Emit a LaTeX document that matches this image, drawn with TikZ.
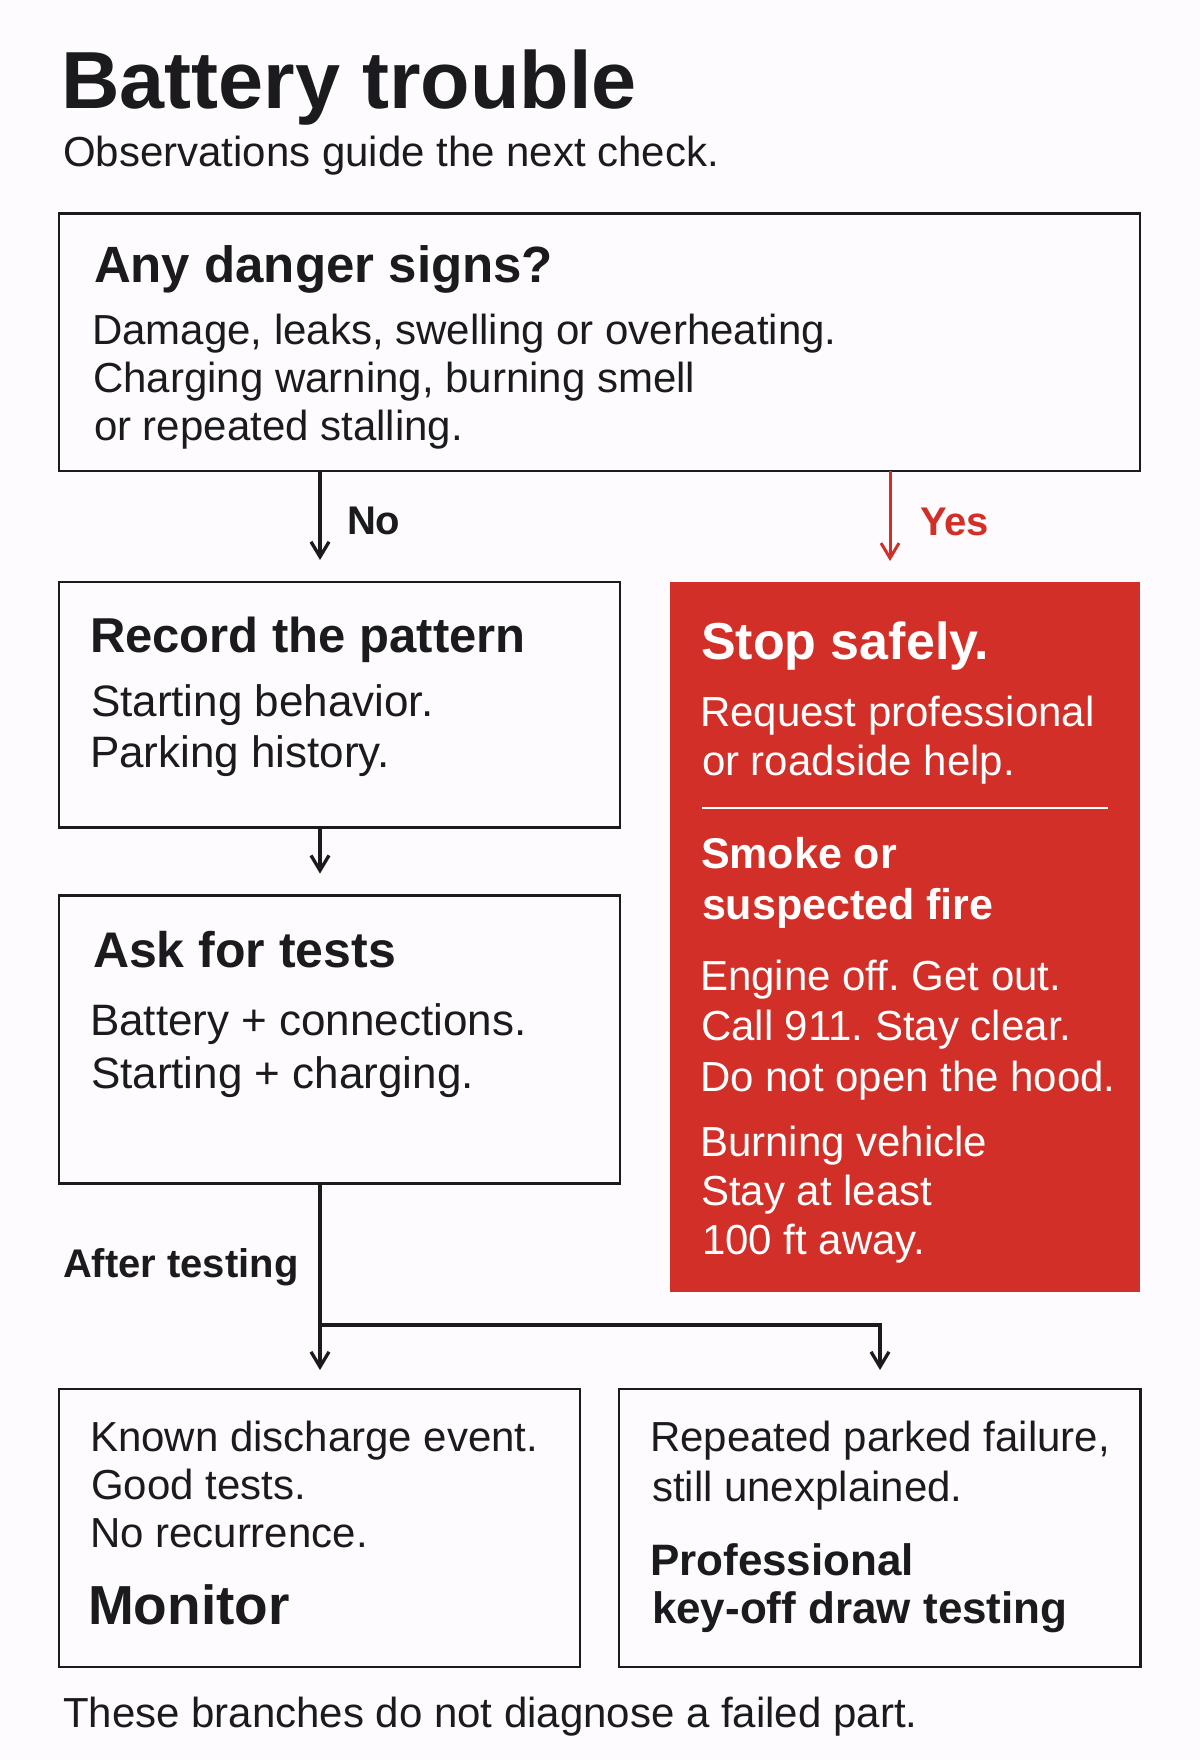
\documentclass[tikz,border=0pt]{standalone}
\usepackage{fontspec}
\setmainfont{Liberation Sans}
\usetikzlibrary{arrows.meta}
\definecolor{bg}{HTML}{FDFBFD}
\definecolor{ink}{HTML}{1B1A1E}
\definecolor{alarm}{HTML}{D12F27}
\newcommand{\fsz}[1]{\fontsize{#1}{#1}\selectfont}
\frenchspacing
\begin{document}
\frenchspacing
\begin{tikzpicture}[x=1pt,y=1pt,
  txt/.style={anchor=base west, inner sep=0pt, outer sep=0pt, text=ink},
  wtxt/.style={txt, text=white},
  box/.style={draw=ink, line width=2.4pt, anchor=north west, inner sep=0pt, outer sep=0pt},
  redbox/.style={fill=alarm, anchor=north west, inner sep=0pt, outer sep=0pt},
  conn/.style={draw=ink, line width=3.3pt},
  arr/.style={conn, -{Straight Barb[length=15pt,width=18pt]}},
  body/.style={font=\fsz{42}},
  bodyl/.style={font=\fsz{44}},
  head/.style={font=\fsz{50}\bfseries}
]
\fill[bg] (0,0) rectangle (1200,-1760);
\useasboundingbox (0,0) rectangle (1200,-1760);

% title
\node[txt, font=\fsz{81}\bfseries] (title) at (61,-109) {Battery trouble};
\node[txt, body] (subtitle) at (63,-167) {Observations guide the next check.};

% boxes
\node[box, minimum width=1081pt, minimum height=257.5pt] (danger) at (59,-213.5) {};
\node[box, minimum width=561pt, minimum height=245.5pt] (record) at (59,-582) {};
\node[box, minimum width=561pt, minimum height=288pt] (ask) at (59,-895.6) {};
\node[redbox, minimum width=470pt, minimum height=710pt] (stop) at (670,-582) {};
\node[box, minimum width=521pt, minimum height=278pt] (monitor) at (59,-1389) {};
\node[box, minimum width=521.5pt, minimum height=278pt] (pro) at (619,-1389) {};

% danger box text
\node[txt, font=\fsz{51}\bfseries] (dh) at (94,-283) {Any danger signs?};
\node[txt, body] (d1) at (92,-344.4) {Damage, leaks, swelling or overheating.};
\node[txt, body] (d2) at (93,-392.3) {Charging warning, burning smell};
\node[txt, body] (d3) at (94,-440) {or repeated stalling.};

% branch labels
\node[txt, font=\fsz{40}\bfseries] (no) at (347,-534) {No};
\node[txt, font=\fsz{40}\bfseries, text=alarm] (yes) at (920,-535) {Yes};

% record box text
\node[txt, font=\fsz{49}\bfseries] (rh) at (90,-652.7) {Record the pattern};
\node[txt, bodyl] (r1) at (91,-716.7) {Starting behavior.};
\node[txt, bodyl] (r2) at (90,-767.3) {Parking history.};

% ask box text
\node[txt, head] (ah) at (93,-967.5) {Ask for tests};
\node[txt, bodyl] (a1) at (90,-1035.6) {Battery + connections.};
\node[txt, bodyl] (a2) at (91,-1088) {Starting + charging.};

% stop box text
\node[wtxt, font=\fsz{52}\bfseries] (sh) at (701,-659) {Stop safely.};
\node[wtxt, body] (s1) at (700,-726.8) {Request professional};
\node[wtxt, body] (s2) at (702,-775.7) {or roadside help.};
\coordinate (sepL) at (702,-808);
\coordinate (sepR) at (1108,-808);
\draw[white, line width=1.6pt] (sepL) -- (sepR);
\node[wtxt, font=\fsz{43}\bfseries] (f1) at (701,-868.6) {Smoke or};
\node[wtxt, font=\fsz{43}\bfseries] (f2) at (702,-919.6) {suspected fire};
\node[wtxt, body] (e1) at (700,-990) {Engine off. Get out.};
\node[wtxt, body] (e2) at (701,-1040) {Call 911. Stay clear.};
\node[wtxt, body] (e3) at (700,-1091.7) {Do not open the hood.};
\node[wtxt, body] (b1) at (700,-1156) {Burning vehicle};
\node[wtxt, body] (b2) at (701,-1205) {Stay at least};
\node[wtxt, body] (b3) at (702,-1254) {100 ft away.};

% after testing
\node[txt, font=\fsz{40}\bfseries] (after) at (63,-1277.5) {After testing};

% monitor box text
\node[txt, body] (m1) at (90,-1451.7) {Known discharge event.};
\node[txt, body] (m2) at (91,-1499) {Good tests.};
\node[txt, body] (m3) at (90,-1547) {No recurrence.};
\node[txt, font=\fsz{55}\bfseries] (mh) at (88,-1624) {Monitor};

% professional box text
\node[txt, body] (p1) at (650,-1451.7) {Repeated parked failure,};
\node[txt, body] (p2) at (652,-1501) {still unexplained.};
\node[txt, font=\fsz{44}\bfseries] (ph1) at (650,-1575) {Professional};
\node[txt, font=\fsz{44}\bfseries] (ph2) at (652,-1623.3) {key-off draw testing};

% footer
\node[txt, body] (footer) at (63,-1727.7) {These branches do not diagnose a failed part.};

% connectors
\coordinate (nx) at (320,0);
\coordinate (yx) at (890,0);
\coordinate (j1) at (320,-1325);
\coordinate (j2) at (880,-1325);
\draw[arr, shorten >=22pt] (danger.south -| nx) -- (record.north -| nx);
\draw[arr, draw=alarm, line width=3pt, shorten >=21pt] (danger.south -| yx) -- (stop.north -| yx);
\draw[arr, shorten >=22pt] (record.south -| nx) -- (ask.north -| nx);
\draw[conn] (ask.south -| j1) -- (j1);
\draw[arr, shorten >=19pt] (j1) -- (monitor.north -| j1);
\draw[arr, shorten >=19pt] (j1) -| (pro.north -| j2);
\end{tikzpicture}
\end{document}
